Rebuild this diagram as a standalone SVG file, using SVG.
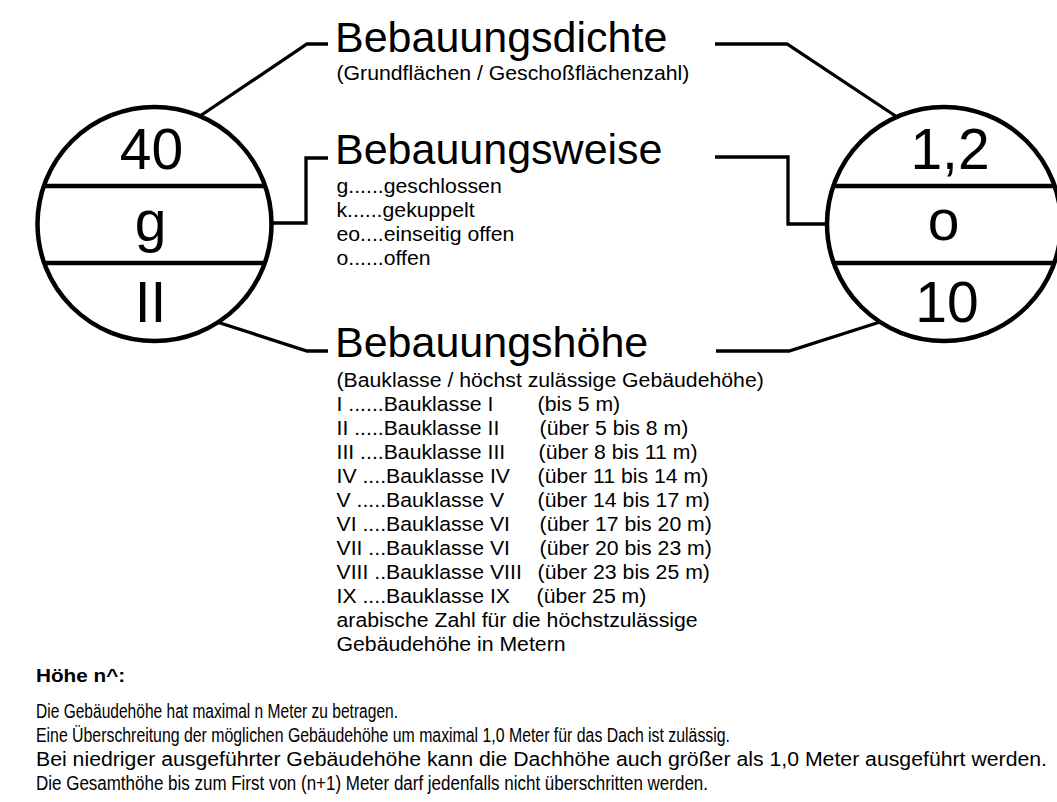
<svg xmlns="http://www.w3.org/2000/svg" width="1057" height="802" viewBox="0 0 1057 802">
<style>
text{font-family:"Liberation Sans",Arial,sans-serif;fill:#000}
.circ{fill:#fff;stroke:#000;stroke-width:4.5}
.div{stroke:#000;stroke-width:4.5}
.num{font-size:57px;text-anchor:middle}
.title{font-size:43px}
.sm{font-size:19.5px}
.bt{font-size:19.5px}
.bh{font-size:19px;font-weight:bold}
#connectors path{fill:none;stroke:#000;stroke-width:3.3;stroke-linejoin:miter}
</style>
<rect width="1057" height="802" fill="#fff"/>
<g id="connectors">
<path d="M200,116 L307,44 L328,44"/>
<path d="M271,223 L306,223 L306,158 L328,158"/>
<path d="M217,322 L307,351 L328,351"/>
<path d="M715,44 L787,44 L897,117"/>
<path d="M715,157 L788,157 L788,224 L827,224"/>
<path d="M716,351 L789,351 L880,322"/>
</g>
<g id="left-symbol">
<circle class="circ" cx="154.5" cy="224" r="117"/>
<line class="div" x1="43" y1="186" x2="266" y2="186"/>
<line class="div" x1="43" y1="263" x2="266" y2="263"/>
<text class="num" x="151.5" y="169">40</text>
<text class="num" x="150.5" y="241">g</text>
<text class="num" x="150.5" y="322">II</text>
</g>
<g id="right-symbol">
<circle class="circ" cx="944" cy="224" r="117"/>
<line class="div" x1="833" y1="186" x2="1056" y2="186"/>
<line class="div" x1="833" y1="263" x2="1056" y2="263"/>
<text class="num" x="950" y="169">1,2</text>
<text class="num" x="943.5" y="240">o</text>
<text class="num" x="947" y="322">10</text>
</g>
<g id="bebauungsdichte">
<text class="title" x="335" y="52">Bebauungsdichte</text>
<g transform="translate(336.5 0) scale(1.09 1)">
<text class="sm" x="0" y="80">(Grundflächen / Geschoßflächenzahl)</text>
</g>
</g>
<g id="bebauungsweise">
<text class="title" x="335" y="164">Bebauungsweise</text>
<g transform="translate(336.5 0) scale(1.09 1)">
<text class="sm" x="0" y="193">g......geschlossen</text>
<text class="sm" x="0" y="217">k......gekuppelt</text>
<text class="sm" x="0" y="241">eo....einseitig offen</text>
<text class="sm" x="0" y="265">o......offen</text>
</g>
</g>
<g id="bebauungshoehe">
<text class="title" x="335" y="357">Bebauungshöhe</text>
<g transform="translate(336.5 0) scale(1.09 1)">
<text class="sm" x="0" y="387">(Bauklasse / höchst zulässige Gebäudehöhe)</text>
<text class="sm" x="0" y="411">I ......Bauklasse I</text>
<text class="sm" x="184.5" y="411">(bis 5 m)</text>
<text class="sm" x="0" y="435">II .....Bauklasse II</text>
<text class="sm" x="186.3" y="435">(über 5 bis 8 m)</text>
<text class="sm" x="0" y="459">III ....Bauklasse III</text>
<text class="sm" x="185.4" y="459">(über 8 bis 11 m)</text>
<text class="sm" x="0" y="483">IV ....Bauklasse IV</text>
<text class="sm" x="184.5" y="483">(über 11 bis 14 m)</text>
<text class="sm" x="0" y="507">V .....Bauklasse V</text>
<text class="sm" x="184.5" y="507">(über 14 bis 17 m)</text>
<text class="sm" x="0" y="531">VI ....Bauklasse VI</text>
<text class="sm" x="186.3" y="531">(über 17 bis 20 m)</text>
<text class="sm" x="0" y="555">VII ...Bauklasse VI</text>
<text class="sm" x="186.3" y="555">(über 20 bis 23 m)</text>
<text class="sm" x="0" y="579">VIII ..Bauklasse VIII</text>
<text class="sm" x="184.5" y="579">(über 23 bis 25 m)</text>
<text class="sm" x="0" y="603">IX ....Bauklasse IX</text>
<text class="sm" x="183.6" y="603">(über 25 m)</text>
<text class="sm" x="0" y="627">arabische Zahl für die höchstzulässige</text>
<text class="sm" x="0" y="651">Gebäudehöhe in Metern</text>
</g>
</g>
<g id="notes">
<g transform="translate(36 0) scale(1.09 1)">
<text class="bh" x="0" y="682">Höhe n^:</text>
</g>
<text class="bt" x="36" y="718" textLength="362" lengthAdjust="spacingAndGlyphs">Die Gebäudehöhe hat maximal n Meter zu betragen.</text>
<text class="bt" x="36" y="742" textLength="694" lengthAdjust="spacingAndGlyphs">Eine Überschreitung der möglichen Gebäudehöhe um maximal 1,0 Meter für das Dach ist zulässig.</text>
<text class="bt" x="36" y="766" textLength="1011" lengthAdjust="spacingAndGlyphs">Bei niedriger ausgeführter Gebäudehöhe kann die Dachhöhe auch größer als 1,0 Meter ausgeführt werden.</text>
<text class="bt" x="36" y="790" textLength="672" lengthAdjust="spacingAndGlyphs">Die Gesamthöhe bis zum First von (n+1) Meter darf jedenfalls nicht überschritten werden.</text>
</g>
</svg>
